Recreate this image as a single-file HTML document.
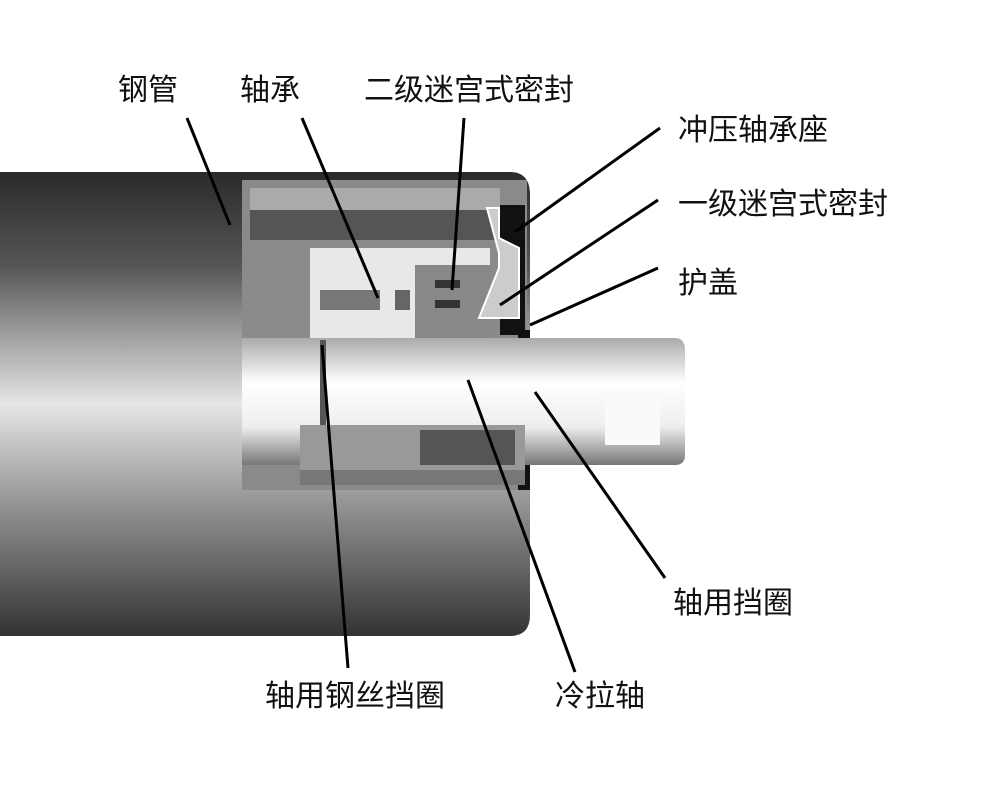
<!DOCTYPE html>
<html><head><meta charset="utf-8"><style>
html,body{margin:0;padding:0;background:#fff;width:1000px;height:795px;overflow:hidden}
svg text{font-family:"Liberation Sans","Noto Sans CJK SC",sans-serif;font-size:30px;fill:#111}
</style></head><body>
<svg width="1000" height="795" viewBox="0 0 1000 795">
<defs>
<linearGradient id="tube" x1="0" y1="0" x2="0" y2="1">
<stop offset="0" stop-color="#2a2a2a"/><stop offset="0.2" stop-color="#555"/>
<stop offset="0.5" stop-color="#e6e6e6"/><stop offset="0.7" stop-color="#999"/>
<stop offset="1" stop-color="#333"/></linearGradient>
<linearGradient id="shaft" x1="0" y1="0" x2="0" y2="1">
<stop offset="0" stop-color="#aaa"/><stop offset="0.35" stop-color="#fff"/>
<stop offset="0.7" stop-color="#eee"/><stop offset="1" stop-color="#777"/></linearGradient>
</defs>
<path d="M0,172 H510 Q530,172 530,195 V615 Q530,636 510,636 H0 Z" fill="url(#tube)"/>
<rect x="242" y="180" width="285" height="310" fill="#8a8a8a"/>
<rect x="250" y="188" width="250" height="22" fill="#aaa"/>
<rect x="250" y="210" width="250" height="30" fill="#555"/>
<path d="M310,248 H490 V345 H310 Z" fill="#e8e8e8"/>
<rect x="320" y="290" width="60" height="20" fill="#777"/>
<rect x="395" y="290" width="15" height="20" fill="#666"/>
<rect x="415" y="265" width="75" height="80" fill="#888"/>
<rect x="435" y="280" width="25" height="8" fill="#333"/>
<rect x="435" y="300" width="25" height="8" fill="#333"/>
<rect x="500" y="205" width="25" height="130" fill="#111"/>
<path d="M487,208 h12 v30 l20,10 v70 h-40 l20,-50 v-15 z" fill="#ccc" stroke="#fff" stroke-width="2"/>
<rect x="518" y="330" width="12" height="160" fill="#111"/>
<path d="M242,338 H675 Q685,338 685,350 V455 Q685,465 675,465 H242 Z" fill="url(#shaft)"/>
<rect x="320" y="340" width="6" height="120" fill="#555"/>
<rect x="605" y="390" width="55" height="55" fill="#fafafa"/>
<rect x="300" y="425" width="225" height="45" fill="#999"/>
<rect x="420" y="430" width="95" height="35" fill="#555"/>
<rect x="300" y="470" width="225" height="15" fill="#777"/>
<g stroke="#000" stroke-width="3" fill="none">
<line x1="187" y1="118" x2="230" y2="225"/>
<line x1="302" y1="118" x2="378" y2="298"/>
<line x1="464" y1="118" x2="452" y2="290"/>
<line x1="660" y1="128" x2="515" y2="232"/>
<line x1="658" y1="200" x2="500" y2="305"/>
<line x1="658" y1="268" x2="530" y2="325"/>
<line x1="665" y1="578" x2="535" y2="392"/>
<line x1="322" y1="345" x2="348" y2="668"/>
<line x1="468" y1="380" x2="575" y2="672"/>
</g>
<text x="118" y="100">钢管</text>
<text x="240" y="100">轴承</text>
<text x="364" y="100">二级迷宫式密封</text>
<text x="678" y="140">冲压轴承座</text>
<text x="678" y="214">一级迷宫式密封</text>
<text x="678" y="293">护盖</text>
<text x="673" y="613">轴用挡圈</text>
<text x="265" y="706">轴用钢丝挡圈</text>
<text x="555" y="706">冷拉轴</text>
</svg>
</body></html>
